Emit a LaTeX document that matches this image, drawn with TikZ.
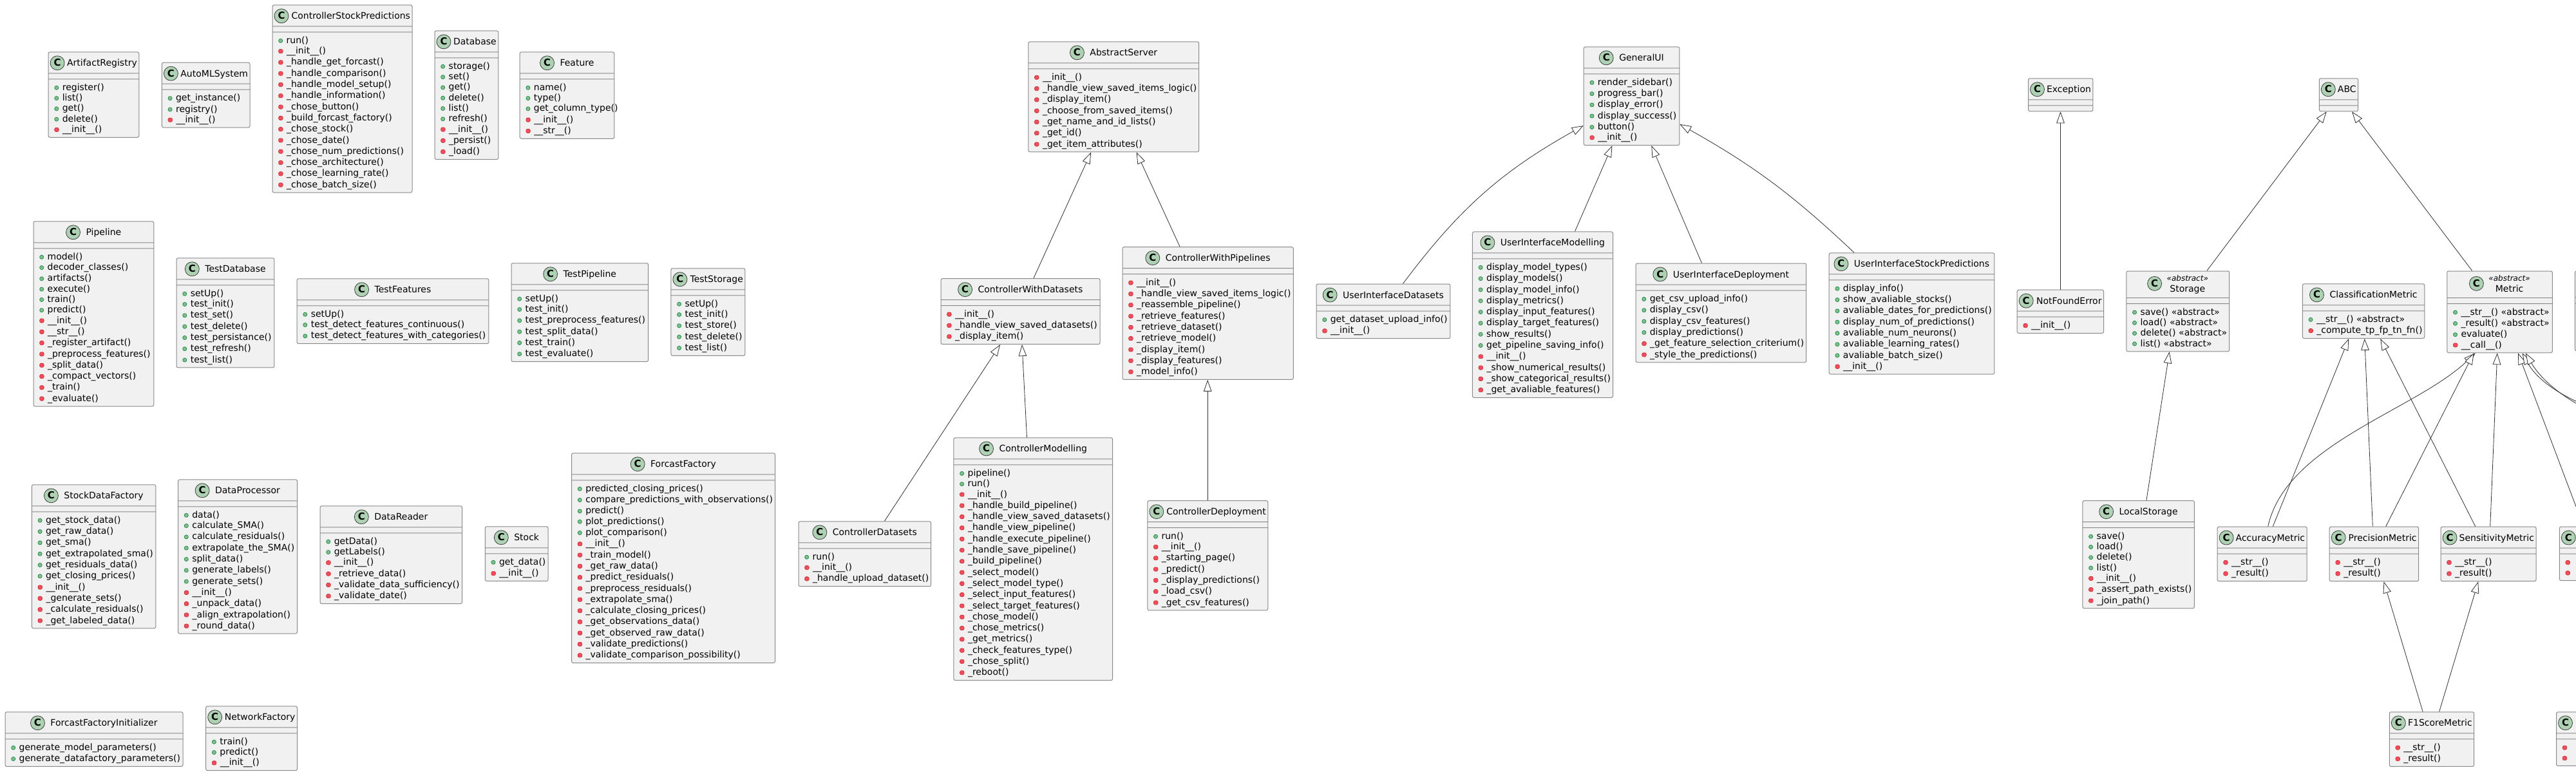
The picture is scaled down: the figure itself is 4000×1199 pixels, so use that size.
\documentclass[tikz,border=0pt]{standalone}
\usepackage{fontspec}
\setmainfont{DejaVu Sans}
\usetikzlibrary{arrows.meta, shapes.multipart}

\definecolor{classfill}{HTML}{F1F1F1}
\definecolor{classline}{HTML}{8A8A8A}
\definecolor{connline}{HTML}{303030}
\definecolor{ciconfill}{HTML}{ADD1B2}
\definecolor{pubfill}{HTML}{84BE84}
\definecolor{publine}{HTML}{038048}
\definecolor{prvfill}{HTML}{F24D5C}
\definecolor{prvline}{HTML}{C82930}

\newlength{\titlegap}
\newcommand{\mstrut}{\rule[-3.3pt]{0pt}{16.3pt}}
\newcommand{\cicon}{\makebox[22pt]{\tikz[baseline=-5pt]\draw[fill=ciconfill, draw=black!75, line width=0.8pt] (0pt,0pt) circle (11pt);}\hspace{-22pt}\makebox[22pt]{\fontsize{15pt}{15pt}\selectfont\bfseries C}}
\newcommand{\ctitle}[1]{\settowidth{\titlegap}{#1}%
  \addtolength{\titlegap}{22pt}\addtolength{\titlegap}{-\linewidth}%
  \ifdim\titlegap<-9pt \setlength{\titlegap}{-9pt}\fi
  \ifdim\titlegap>0pt \setlength{\titlegap}{0pt}\fi
  \makebox[\linewidth]{\rule[-6.5pt]{0pt}{24pt}\cicon\hspace{-\titlegap}#1}}
\newcommand{\stitle}[1]{\makebox[\linewidth]{\cicon\hspace{8pt}\begin{tabular}[c]{@{}c@{}}{\fontsize{12pt}{13pt}\selectfont\itshape «abstract»}\\#1\end{tabular}}}
\newcommand{\cuttitle}[1]{\makebox[\linewidth][l]{\rule[-6.5pt]{0pt}{#1}\cicon}}
\newcommand{\pubm}[1]{\mbox{\hspace{6.3pt}\tikz[baseline=0pt]\draw[fill=pubfill, draw=publine, line width=0.6pt] (3.4pt,4pt) circle (3.1pt);\hspace{5.6pt}#1}\mstrut}
\newcommand{\prvm}[1]{\mbox{\hspace{6.3pt}\tikz[baseline=0pt]\draw[fill=prvfill, draw=prvline, line width=0.6pt] (0pt,0.9pt) rectangle (6.6pt,7.2pt);\hspace{5.6pt}#1}\mstrut}
\newcommand{\abst}{~«abstract»}

\begin{document}
\begin{tikzpicture}[x=1pt, y=-1pt,
  classbox/.style={rectangle split, rectangle split parts=3, draw=classline, fill=classfill,
                   line width=1pt, rounded corners=2.5pt, anchor=north west,
                   inner xsep=3pt, inner ysep=4pt, align=left,
                   font=\fontsize{14pt}{16.3pt}\selectfont,
                   rectangle split empty part height=0pt, rectangle split empty part depth=0pt},
  inh/.style={draw=connline, line width=0.8pt, -{Triangle[fill=white, length=18pt, width=12.6pt]}},
]
  \useasboundingbox (0,0) rectangle (4000,1199);
  \fill[white] (0,0) rectangle (4000,1199);
  \clip (0,0) rectangle (4000,1199);

  % loose classes
  \node[classbox, text width=134.7pt] (artreg) at (74.6,80.3) {\ctitle{ArtifactRegistry}
    \nodepart{two}
    \nodepart{three}\pubm{register()}\\ \pubm{list()}\\ \pubm{get()}\\ \pubm{delete()}\\ \prvm{\_\_init\_\_()}};
  \node[classbox, text width=130.6pt] (automl) at (250.9,96.7) {\ctitle{AutoMLSystem}
    \nodepart{two}
    \nodepart{three}\pubm{get\_instance()}\\ \pubm{registry()}\\ \prvm{\_\_init\_\_()}};
  \node[classbox, text width=211pt] (ctrlsp) at (422.5,7.3) {\ctitle{ControllerStockPredictions}
    \nodepart{two}
    \nodepart{three}\pubm{run()}\\ \prvm{\_\_init\_\_()}\\ \prvm{\_handle\_get\_forcast()}\\
      \prvm{\_handle\_comparison()}\\ \prvm{\_handle\_model\_setup()}\\ \prvm{\_handle\_information()}\\
      \prvm{\_chose\_button()}\\ \prvm{\_build\_forcast\_factory()}\\ \prvm{\_chose\_stock()}\\
      \prvm{\_chose\_date()}\\ \prvm{\_chose\_num\_predictions()}\\ \prvm{\_chose\_architecture()}\\
      \prvm{\_chose\_learning\_rate()}\\ \prvm{\_chose\_batch\_size()}};
  \node[classbox, text width=92.8pt] (db) at (674.5,47.3) {\ctitle{Database}
    \nodepart{two}
    \nodepart{three}\pubm{storage()}\\ \pubm{set()}\\ \pubm{get()}\\ \pubm{delete()}\\ \pubm{list()}\\
      \pubm{refresh()}\\ \prvm{\_\_init\_\_()}\\ \prvm{\_persist()}\\ \prvm{\_load()}};
  \node[classbox, text width=140.6pt] (feat) at (806.7,80.3) {\ctitle{Feature}
    \nodepart{two}
    \nodepart{three}\pubm{name()}\\ \pubm{type()}\\ \pubm{get\_column\_type()}\\ \prvm{\_\_init\_\_()}\\ \prvm{\_\_str\_\_()}};
  \node[classbox, text width=180.8pt] (pipe) at (51.5,343.3) {\ctitle{Pipeline}
    \nodepart{two}
    \nodepart{three}\pubm{model()}\\ \pubm{decoder\_classes()}\\ \pubm{artifacts()}\\ \pubm{execute()}\\
      \pubm{train()}\\ \pubm{predict()}\\ \prvm{\_\_init\_\_()}\\ \prvm{\_\_str\_\_()}\\
      \prvm{\_register\_artifact()}\\ \prvm{\_preprocess\_features()}\\ \prvm{\_split\_data()}\\
      \prvm{\_compact\_vectors()}\\ \prvm{\_train()}\\ \prvm{\_evaluate()}};
  \node[classbox, text width=145.8pt] (tdb) at (273.6,400.3) {\ctitle{TestDatabase}
    \nodepart{two}
    \nodepart{three}\pubm{setUp()}\\ \pubm{test\_init()}\\ \pubm{test\_set()}\\ \pubm{test\_delete()}\\
      \pubm{test\_persistance()}\\ \pubm{test\_refresh()}\\ \pubm{test\_list()}};
  \node[classbox, text width=291.8pt] (tfeat) at (460.6,432.3) {\ctitle{TestFeatures}
    \nodepart{two}
    \nodepart{three}\pubm{setUp()}\\ \pubm{test\_detect\_features\_continuous()}\\ \pubm{test\_detect\_features\_with\_categories()}};
  \node[classbox, text width=206.7pt] (tpipe) at (793.5,408.3) {\ctitle{TestPipeline}
    \nodepart{two}
    \nodepart{three}\pubm{setUp()}\\ \pubm{test\_init()}\\ \pubm{test\_preprocess\_features()}\\
      \pubm{test\_split\_data()}\\ \pubm{test\_train()}\\ \pubm{test\_evaluate()}};
  \node[classbox, text width=109pt] (tstor) at (1041.4,416.3) {\ctitle{TestStorage}
    \nodepart{two}
    \nodepart{three}\pubm{setUp()}\\ \pubm{test\_init()}\\ \pubm{test\_store()}\\ \pubm{test\_delete()}\\ \pubm{test\_list()}};
  \node[classbox, text width=186.4pt] (sdf) at (48.9,752.3) {\ctitle{StockDataFactory}
    \nodepart{two}
    \nodepart{three}\pubm{get\_stock\_data()}\\ \pubm{get\_raw\_data()}\\ \pubm{get\_sma()}\\
      \pubm{get\_extrapolated\_sma()}\\ \pubm{get\_residuals\_data()}\\ \pubm{get\_closing\_prices()}\\
      \prvm{\_\_init\_\_()}\\ \prvm{\_generate\_sets()}\\ \prvm{\_calculate\_residuals()}\\ \prvm{\_get\_labeled\_data()}};
  \node[classbox, text width=178.9pt] (dproc) at (276.1,744.3) {\ctitle{DataProcessor}
    \nodepart{two}
    \nodepart{three}\pubm{data()}\\ \pubm{calculate\_SMA()}\\ \pubm{calculate\_residuals()}\\
      \pubm{extrapolate\_the\_SMA()}\\ \pubm{split\_data()}\\ \pubm{generate\_labels()}\\ \pubm{generate\_sets()}\\
      \prvm{\_\_init\_\_()}\\ \prvm{\_unpack\_data()}\\ \prvm{\_align\_extrapolation()}\\ \prvm{\_round\_data()}};
  \node[classbox, text width=214.5pt] (dread) at (496.6,785.3) {\ctitle{DataReader}
    \nodepart{two}
    \nodepart{three}\pubm{getData()}\\ \pubm{getLabels()}\\ \prvm{\_\_init\_\_()}\\ \prvm{\_retrieve\_data()}\\
      \prvm{\_validate\_data\_sufficiency()}\\ \prvm{\_validate\_date()}};
  \node[classbox, text width=91.8pt] (stock) at (752.8,817.3) {\ctitle{Stock}
    \nodepart{two}
    \nodepart{three}\pubm{get\_data()}\\ \prvm{\_\_init\_\_()}};
  \node[classbox, text width=309.9pt] (ffac) at (887.1,703.3) {\ctitle{ForcastFactory}
    \nodepart{two}
    \nodepart{three}\pubm{predicted\_closing\_prices()}\\ \pubm{compare\_predictions\_with\_observations()}\\
      \pubm{predict()}\\ \pubm{plot\_predictions()}\\ \pubm{plot\_comparison()}\\ \prvm{\_\_init\_\_()}\\
      \prvm{\_train\_model()}\\ \prvm{\_get\_raw\_data()}\\ \prvm{\_predict\_residuals()}\\
      \prvm{\_preprocess\_residuals()}\\ \prvm{\_extrapolate\_sma()}\\ \prvm{\_calculate\_closing\_prices()}\\
      \prvm{\_get\_observations\_data()}\\ \prvm{\_get\_observed\_raw\_data()}\\ \prvm{\_validate\_predictions()}\\
      \prvm{\_validate\_comparison\_possibility()}};
  \node[classbox, text width=270pt] (ffi) at (7.5,1105.3) {\ctitle{ForcastFactoryInitializer}
    \nodepart{two}
    \nodepart{three}\pubm{generate\_model\_parameters()}\\ \pubm{generate\_datafactory\_parameters()}};
  \node[classbox, text width=135.8pt] (nfac) at (319.2,1096.3) {\ctitle{NetworkFactory}
    \nodepart{two}
    \nodepart{three}\pubm{train()}\\ \pubm{predict()}\\ \prvm{\_\_init\_\_()}};

  % server hierarchy
  \node[classbox, text width=258.8pt] (abs) at (1596.4,64.3) {\ctitle{AbstractServer}
    \nodepart{two}
    \nodepart{three}\prvm{\_\_init\_\_()}\\ \prvm{\_handle\_view\_saved\_items\_logic()}\\ \prvm{\_display\_item()}\\
      \prvm{\_choose\_from\_saved\_items()}\\ \prvm{\_get\_name\_and\_id\_lists()}\\ \prvm{\_get\_id()}\\
      \prvm{\_get\_item\_attributes()}};
  \node[classbox, text width=241pt] (cwd) at (1460.5,432.2) {\ctitle{ControllerWithDatasets}
    \nodepart{two}
    \nodepart{three}\prvm{\_\_init\_\_()}\\ \prvm{\_handle\_view\_saved\_datasets()}\\ \prvm{\_display\_item()}};
  \node[classbox, text width=259.3pt] (cwp) at (1742.5,383.2) {\ctitle{ControllerWithPipelines}
    \nodepart{two}
    \nodepart{three}\prvm{\_\_init\_\_()}\\ \prvm{\_handle\_view\_saved\_items\_logic()}\\ \prvm{\_reassemble\_pipeline()}\\
      \prvm{\_retrieve\_features()}\\ \prvm{\_retrieve\_dataset()}\\ \prvm{\_retrieve\_model()}\\
      \prvm{\_display\_item()}\\ \prvm{\_display\_features()}\\ \prvm{\_model\_info()}};
  \node[classbox, text width=199.6pt] (cds) at (1239.5,809.3) {\ctitle{ControllerDatasets}
    \nodepart{two}
    \nodepart{three}\pubm{run()}\\ \prvm{\_\_init\_\_()}\\ \prvm{\_handle\_upload\_dataset()}};
  \node[classbox, text width=240.8pt] (cmod) at (1480.4,679.4) {\ctitle{ControllerModelling}
    \nodepart{two}
    \nodepart{three}\pubm{pipeline()}\\ \pubm{run()}\\ \prvm{\_\_init\_\_()}\\ \prvm{\_handle\_build\_pipeline()}\\
      \prvm{\_handle\_view\_saved\_datasets()}\\ \prvm{\_handle\_view\_pipeline()}\\ \prvm{\_handle\_execute\_pipeline()}\\
      \prvm{\_handle\_save\_pipeline()}\\ \prvm{\_build\_pipeline()}\\ \prvm{\_select\_model()}\\
      \prvm{\_select\_model\_type()}\\ \prvm{\_select\_input\_features()}\\ \prvm{\_select\_target\_features()}\\
      \prvm{\_chose\_model()}\\ \prvm{\_chose\_metrics()}\\ \prvm{\_get\_metrics()}\\
      \prvm{\_check\_features\_type()}\\ \prvm{\_chose\_split()}\\ \prvm{\_reboot()}};
  \node[classbox, text width=181pt] (cdep) at (1781.3,777.2) {\ctitle{ControllerDeployment}
    \nodepart{two}
    \nodepart{three}\pubm{run()}\\ \prvm{\_\_init\_\_()}\\ \prvm{\_starting\_page()}\\ \prvm{\_predict()}\\
      \prvm{\_display\_predictions()}\\ \prvm{\_load\_csv()}\\ \prvm{\_get\_csv\_features()}};

  \draw[inh] ([xshift=144.4pt]cwd.north west) -- ([xshift=97.8pt]abs.south west);
  \draw[inh] ([xshift=89.6pt]cwp.north west) -- ([xshift=168.3pt]abs.south west);
  \draw[inh] ([xshift=134pt]cds.north west) -- ([xshift=92.6pt]cwd.south west);
  \draw[inh] ([xshift=114.1pt]cmod.north west) -- ([xshift=126.5pt]cwd.south west);
  \draw[inh] ([xshift=93.9pt]cdep.north west) -- ([xshift=132.7pt]cwp.south west);

  % user interface hierarchy
  \node[classbox, text width=142.6pt] (gui) at (2458.7,72.3) {\ctitle{GeneralUI}
    \nodepart{two}
    \nodepart{three}\pubm{render\_sidebar()}\\ \pubm{progress\_bar()}\\ \pubm{display\_error()}\\
      \pubm{display\_success()}\\ \pubm{button()}\\ \prvm{\_\_init\_\_()}};
  \node[classbox, text width=201.8pt] (uids) at (2043.6,440.6) {\ctitle{UserInterfaceDatasets}
    \nodepart{two}
    \nodepart{three}\pubm{get\_dataset\_upload\_info()}\\ \prvm{\_\_init\_\_()}};
  \node[classbox, text width=212.1pt] (uimod) at (2285.9,359.4) {\ctitle{UserInterfaceModelling}
    \nodepart{two}
    \nodepart{three}\pubm{display\_model\_types()}\\ \pubm{display\_models()}\\ \pubm{display\_model\_info()}\\
      \pubm{display\_metrics()}\\ \pubm{display\_input\_features()}\\ \pubm{display\_target\_features()}\\
      \pubm{show\_results()}\\ \pubm{get\_pipeline\_saving\_info()}\\ \prvm{\_\_init\_\_()}\\
      \prvm{\_show\_numerical\_results()}\\ \prvm{\_show\_categorical\_results()}\\ \prvm{\_get\_avaliable\_features()}};
  \node[classbox, text width=258.6pt] (uidep) at (2539.6,408.5) {\ctitle{UserInterfaceDeployment}
    \nodepart{two}
    \nodepart{three}\pubm{get\_csv\_upload\_info()}\\ \pubm{display\_csv()}\\ \pubm{display\_csv\_features()}\\
      \pubm{display\_predictions()}\\ \prvm{\_get\_feature\_selection\_criterium()}\\ \prvm{\_style\_the\_predictions()}};
  \node[classbox, text width=250.6pt] (uisp) at (2839.7,392.3) {\ctitle{UserInterfaceStockPredictions}
    \nodepart{two}
    \nodepart{three}\pubm{display\_info()}\\ \pubm{show\_avaliable\_stocks()}\\ \pubm{avaliable\_dates\_for\_predictions()}\\
      \pubm{display\_num\_of\_predictions()}\\ \pubm{avaliable\_num\_neurons()}\\ \pubm{avaliable\_learning\_rates()}\\
      \pubm{avaliable\_batch\_size()}\\ \prvm{\_\_init\_\_()}};

  \draw[inh] ([xshift=134.9pt]uids.north west) to[bend left=12] ([yshift=-122.8pt]gui.north west);
  \draw[inh] ([xshift=159.6pt]uimod.north west) -- ([xshift=44.7pt]gui.south west);
  \draw[inh] ([xshift=102.8pt]uidep.north west) -- ([xshift=105.6pt]gui.south west);
  \draw[inh] ([xshift=39.3pt]uisp.north west) to[bend right=7] ([yshift=-120.6pt]gui.north east);

  % storage, errors and metrics
  \node[classbox, text width=94.4pt] (exc) at (3149,121.3) {\ctitle{Exception}
    \nodepart{two}
    \nodepart{three}};
  \node[classbox, text width=128.3pt] (nfe) at (3131.7,449.7) {\ctitle{NotFoundError}
    \nodepart{two}
    \nodepart{three}\prvm{\_\_init\_\_()}};
  \node[classbox, text width=54.3pt] (abc) at (3600.8,121.3) {\ctitle{ABC}
    \nodepart{two}
    \nodepart{three}};
  \node[classbox, text width=153.9pt] (stor) at (3301.3,420.5) {\stitle{Storage}
    \nodepart{two}
    \nodepart{three}\pubm{save()\abst}\\ \pubm{load()\abst}\\ \pubm{delete()\abst}\\ \pubm{list()\abst}};
  \node[classbox, text width=183.5pt] (clsm) at (3574.8,440.4) {\ctitle{ClassificationMetric}
    \nodepart{two}
    \nodepart{three}\pubm{\_\_str\_\_()\abst}\\ \prvm{\_compute\_tp\_fp\_tn\_fn()}};
  \node[classbox, text width=157.5pt] (met) at (3799.3,420.5) {\stitle{Metric}
    \nodepart{two}
    \nodepart{three}\pubm{\_\_str\_\_()\abst}\\ \pubm{\_result()\abst}\\ \pubm{evaluate()}\\ \prvm{\_\_call\_\_()}};
  \node[classbox, text width=144pt] (cuta) at (3997.9,420.5) {\makebox[\linewidth][l]{\rule[-10.5pt]{0pt}{31.8pt}}
    \nodepart{two}
    \nodepart{three}\pubm{}\\ \pubm{}\\ \pubm{}\\ \prvm{}};
  \node[classbox, text width=167.5pt] (lstor) at (3233.4,777.2) {\ctitle{LocalStorage}
    \nodepart{two}
    \nodepart{three}\pubm{save()}\\ \pubm{load()}\\ \pubm{delete()}\\ \pubm{list()}\\ \prvm{\_\_init\_\_()}\\
      \prvm{\_assert\_path\_exists()}\\ \prvm{\_join\_path()}};
  \node[classbox, text width=133pt] (accm) at (3442.6,817.6) {\ctitle{AccuracyMetric}
    \nodepart{two}
    \nodepart{three}\prvm{\_\_str\_\_()}\\ \prvm{\_result()}};
  \node[classbox, text width=132.4pt] (precm) at (3616.7,817.6) {\ctitle{PrecisionMetric}
    \nodepart{two}
    \nodepart{three}\prvm{\_\_str\_\_()}\\ \prvm{\_result()}};
  \node[classbox, text width=142pt] (sensm) at (3789.5,817.6) {\ctitle{SensitivityMetric}
    \nodepart{two}
    \nodepart{three}\prvm{\_\_str\_\_()}\\ \prvm{\_result()}};
  \node[classbox, text width=144pt] (cutb) at (3973.8,817.6) {\cuttitle{24pt}
    \nodepart{two}
    \nodepart{three}\prvm{}\\ \prvm{}};
  \node[classbox, text width=125.4pt] (f1m) at (3709.8,1105.3) {\ctitle{F1ScoreMetric}
    \nodepart{two}
    \nodepart{three}\prvm{\_\_str\_\_()}\\ \prvm{\_result()}};
  \node[classbox, text width=144pt] (cutc) at (3969,1105.3) {\cuttitle{24pt}
    \nodepart{two}
    \nodepart{three}\prvm{}\\ \prvm{}};
  \coordinate (offa) at (4090,650);
  \coordinate (offb) at (4090,658);

  \draw[inh] ([xshift=67.8pt]nfe.north west) -- ([xshift=50.5pt]exc.south west);
  \draw[inh] ([xshift=125.5pt]stor.north west) -- ([xshift=11.9pt]abc.south west);
  \draw[inh] ([xshift=39.3pt]met.north west) -- ([xshift=51.2pt]abc.south west);
  \draw[inh] ([xshift=99.5pt]lstor.north west) -- ([xshift=67.3pt]stor.south west);
  \draw[inh] ([xshift=86.7pt]accm.north west) -- ([xshift=72.3pt]clsm.south west);
  \draw[inh] ([xshift=67.6pt]precm.north west) -- ([xshift=96.9pt]clsm.south west);
  \draw[inh] ([xshift=54.2pt]sensm.north west) -- ([xshift=121.4pt]clsm.south west);
  \draw[inh] ([xshift=79.1pt]accm.north west) .. controls +(28,-128) and +(-93,89) .. ([xshift=44.5pt]met.south west);
  \draw[inh] ([xshift=88pt]precm.north west) -- ([xshift=42pt]met.south west);
  \draw[inh] ([xshift=77.2pt]sensm.north west) -- ([xshift=78.4pt]met.south west);
  \draw[inh] ([xshift=37.8pt]cutb.north west) -- ([xshift=110.7pt]met.south west);
  \draw[inh] (offa) .. controls +(-70,-10) and +(30,55) .. ([xshift=117.4pt]met.south west);
  \draw[inh] (offb) .. controls +(-70,-10) and +(32,55) .. ([xshift=122.4pt]met.south west);
  \draw[inh] ([xshift=52.3pt]f1m.north west) -- ([xshift=84.8pt]precm.south west);
  \draw[inh] ([xshift=77.8pt]f1m.north west) -- ([xshift=58.7pt]sensm.south west);
\end{tikzpicture}
\end{document}
